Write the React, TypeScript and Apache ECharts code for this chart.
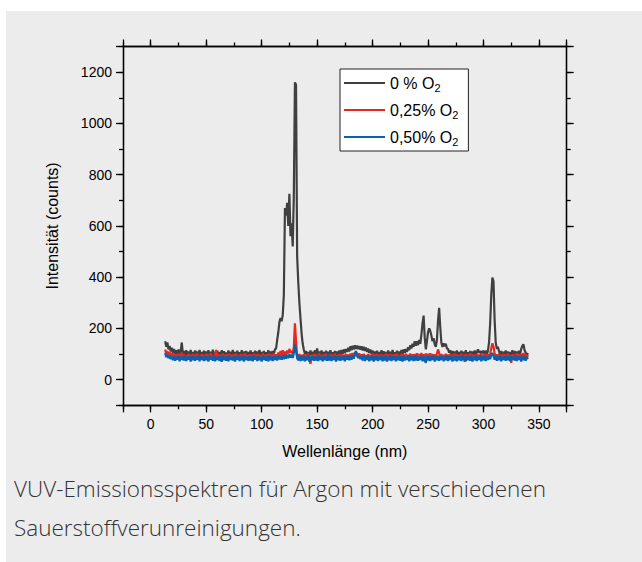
import React, { useEffect, useRef } from "react";
import * as echarts from "echarts";

// Wavelength grid of the spectra: first sample (nm) and spacing (nm)
const WL_START = 13;
const WL_STEP = 1;

const seriesNames = ["0 % O2", "0,25% O2", "0,50% O2"];
const seriesColors = ["#404040", "#e8281e", "#0862b0"];

const xMajorLabels = [0, 50, 100, 150, 200, 250, 300, 350];
const yMajorLabels = [0, 200, 400, 600, 800, 1000, 1200];

// 0 % O2 (counts), 13 nm .. 340 nm
const grey = [
  150, 128, 145, 118, 132, 110, 125,
  104, 120, 98, 115, 96, 118, 94, 112, 145, 100,
  112, 92, 115, 95, 110, 90, 116, 96, 108, 92,
  114, 94, 110, 89, 116, 95, 108, 91, 113, 97,
  110, 90, 115, 94, 109, 92, 117, 95, 106, 90,
  113, 96, 108, 89, 115, 93, 111, 95, 106, 91,
  114, 92, 109, 95, 116, 90, 108, 94, 113, 96,
  107, 91, 115, 94, 110, 89, 112, 96, 108, 92,
  114, 95, 107, 90, 113, 94, 110, 92, 116, 95,
  108, 91, 112, 96, 107, 93, 115, 94, 110, 97,
  112, 100, 118, 122, 155, 185, 225, 240, 228, 252,
  330, 670, 640, 690, 600, 725, 560, 610, 520, 720,
  1160, 1150, 480, 380, 300, 240, 180, 140, 118, 100,
  112, 94, 108, 92, 114, 96, 109, 90, 115, 95,
  122, 98, 110, 92, 114, 95, 108, 91, 113, 96,
  109, 93, 115, 94, 107, 90, 112, 96, 110, 92,
  114, 97, 116, 100, 118, 103, 120, 108, 124, 110,
  130, 115, 132, 118, 134, 120, 133, 119, 131, 117,
  130, 114, 128, 112, 125, 108, 122, 104, 118, 100,
  114, 95, 110, 92, 113, 96, 108, 90, 115, 94,
  111, 93, 108, 91, 114, 95, 109, 92, 116, 96,
  107, 91, 113, 95, 110, 93, 116, 98, 118, 104,
  120, 108, 126, 115, 134, 122, 140, 128, 150, 132,
  150, 135, 155, 140, 175, 220, 250, 165, 118, 150,
  185, 200, 190, 172, 150, 162, 138, 128, 155, 230,
  280, 205, 145, 128, 142, 130, 140, 122, 120, 105,
  115, 98, 112, 94, 110, 92, 114, 96, 108, 91,
  113, 95, 109, 90, 115, 94, 107, 92, 112, 96,
  110, 93, 114, 95, 108, 118, 104, 112, 100, 110,
  112, 96, 114, 100, 112, 145, 220, 330, 398, 385,
  235, 145, 120, 128, 110, 98, 112, 94, 109, 96,
  114, 93, 110, 95, 108, 91, 115, 96, 112, 94,
  110, 97, 113, 100, 120, 132, 138, 115, 106, 94,
  104,
];

// 0,25 % O2 (counts)
const red = [
  118, 100, 112, 96, 108, 92, 104,
  88, 102, 84, 99, 86, 101, 82, 97, 104, 86,
  99, 80, 96, 84, 101, 78, 97, 85, 100, 81,
  98, 83, 102, 79, 96, 86, 100, 80, 97, 84,
  101, 78, 98, 85, 103, 80, 96, 82, 99, 116,
  84, 100, 79, 97, 86, 102, 81, 96, 83, 99,
  80, 101, 85, 97, 78, 99, 84, 102, 81, 96,
  86, 100, 79, 98, 83, 103, 80, 96, 85, 99,
  78, 97, 84, 101, 80, 98, 86, 100, 79, 96,
  85, 102, 81, 97, 78, 99, 84, 101, 80, 98,
  86, 103, 82, 99, 88, 106, 90, 112, 95, 115,
  98, 110, 96, 114, 102, 120, 105, 112, 100, 128,
  220, 150, 92, 84, 100, 80, 97, 85, 99, 81,
  96, 83, 101, 79, 62, 86, 98, 82, 100, 84,
  97, 80, 102, 85, 96, 79, 99, 84, 101, 81,
  98, 85, 100, 80, 97, 83, 102, 79, 96, 86,
  99, 81, 101, 84, 97, 80, 100, 86, 98, 83,
  102, 86, 104, 90, 106, 92, 105, 88, 103, 85,
  99, 82, 101, 84, 96, 80, 100, 85, 97, 81,
  102, 79, 98, 84, 100, 80, 97, 86, 99, 82,
  96, 85, 101, 79, 98, 83, 100, 80, 97, 86,
  99, 81, 102, 84, 96, 80, 100, 85, 98, 82,
  101, 84, 97, 80, 102, 86, 99, 83, 100, 87,
  103, 85, 100, 88, 104, 90, 99, 86, 102, 84,
  101, 87, 103, 85, 100, 89, 98, 84, 102, 118,
  104, 86, 100, 81, 97, 84, 101, 79, 98, 85,
  100, 82, 97, 86, 102, 80, 99, 84, 96, 81,
  101, 85, 98, 70, 100, 83, 97, 86, 102, 80,
  99, 84, 96, 81, 100, 86, 98, 83, 102, 88,
  97, 84, 101, 86, 99, 90, 102, 122, 142, 130,
  104, 88, 99, 83, 101, 80, 97, 86, 100, 82,
  98, 85, 102, 80, 97, 66, 100, 84, 98, 81,
  102, 85, 99, 83, 101, 86, 104, 88, 100, 84,
  96,
];

// 0,50 % O2 (counts)
const blue = [
  104, 88, 98, 84, 94, 80, 90,
  76, 92, 74, 90, 78, 93, 72, 89, 77, 91,
  75, 94, 73, 88, 79, 92, 71, 90, 76, 93,
  74, 89, 78, 94, 72, 91, 77, 88, 73, 92,
  76, 90, 71, 93, 78, 89, 74, 95, 72, 88,
  77, 92, 73, 90, 70, 94, 76, 89, 74, 91,
  72, 93, 77, 88, 75, 92, 71, 90, 78, 94,
  73, 89, 76, 93, 71, 91, 77, 88, 74, 92,
  75, 90, 72, 94, 78, 89, 73, 92, 76, 88,
  71, 93, 77, 90, 74, 91, 72, 94, 76, 89,
  73, 92, 77, 90, 75, 94, 79, 93, 78, 96,
  80, 95, 82, 97, 84, 99, 86, 98, 85, 104,
  138, 112, 84, 76, 92, 73, 90, 75, 93, 72,
  89, 76, 94, 71, 90, 77, 92, 74, 88, 75,
  91, 73, 94, 77, 89, 72, 92, 76, 90, 74,
  100, 75, 92, 73, 89, 77, 94, 71, 90, 76,
  92, 74, 89, 77, 93, 72, 90, 78, 94, 76,
  93, 78, 95, 82, 100, 112, 96, 84, 94, 80,
  91, 75, 93, 73, 90, 77, 92, 72, 89, 76,
  94, 71, 90, 76, 92, 73, 89, 77, 93, 72,
  90, 75, 92, 71, 89, 76, 94, 73, 90, 77,
  92, 72, 89, 76, 93, 74, 90, 71, 92, 75,
  89, 77, 94, 72, 91, 76, 90, 73, 93, 75,
  92, 74, 89, 77, 94, 72, 90, 76, 66, 91,
  75, 92, 73, 90, 77, 94, 71, 89, 76, 93,
  74, 90, 77, 92, 72, 89, 76, 94, 73, 90,
  77, 92, 71, 89, 75, 93, 72, 90, 76, 91,
  73, 94, 77, 89, 72, 92, 76, 90, 74, 93,
  71, 89, 76, 92, 73, 90, 77, 94, 72, 91,
  76, 92, 73, 89, 77, 93, 80, 96, 104, 94,
  78, 92, 74, 90, 76, 93, 72, 89, 77, 91,
  74, 93, 76, 90, 72, 92, 77, 89, 75, 94,
  73, 90, 77, 92, 71, 89, 76, 93, 74, 88,
  80,
];

const captionLines = [
  "VUV-Emissionsspektren für Argon mit verschiedenen",
  "Sauerstoffverunreinigungen.",
];

const FONT = "'Liberation Sans', Arial, sans-serif";

export default function App() {
  const ref = useRef<HTMLDivElement>(null);

  useEffect(() => {
    if (!ref.current) return;
    const chart = echarts.init(ref.current, undefined, { renderer: "svg" });
    const axisLine = { show: true, onZero: false, lineStyle: { color: "#000", width: 1.3 } };
    const tickStyle = { color: "#000", width: 1.3 };
    const toXY = (arr: number[]) => arr.map((v, i) => [WL_START + i * WL_STEP, v]);
    const grid = { left: 117, top: 35.5, right: 75.3, bottom: 156.7 };

    const xBase = { type: "value" as const, min: -25, max: 375, splitLine: { show: false }, axisLine };
    const yBase = { type: "value" as const, min: -100, max: 1300, splitLine: { show: false }, axisLine };

    chart.setOption({
      animation: false,
      backgroundColor: "#ececec",
      grid,
      xAxis: [
        { ...xBase, position: "bottom", interval: 25, axisTick: { length: 4, lineStyle: tickStyle }, axisLabel: { show: false } },
        {
          ...xBase, position: "bottom", splitNumber: 8,
          axisTick: { length: 7, lineStyle: tickStyle },
          axisLabel: {
            margin: 12, fontSize: 14, color: "#000", fontFamily: FONT,
            formatter: (v: number) => (xMajorLabels.includes(v) ? String(v) : ""),
          },
          name: "Wellenlänge (nm)", nameLocation: "middle", nameGap: 38,
          nameTextStyle: { fontSize: 16, color: "#000", fontFamily: FONT },
        },
        { ...xBase, position: "top", interval: 25, axisTick: { length: 4, lineStyle: tickStyle }, axisLabel: { show: false } },
        { ...xBase, position: "top", splitNumber: 8, axisTick: { length: 7, lineStyle: tickStyle }, axisLabel: { show: false } },
      ],
      yAxis: [
        { ...yBase, position: "left", interval: 100, axisTick: { length: 4, lineStyle: tickStyle }, axisLabel: { show: false } },
        {
          ...yBase, position: "left", splitNumber: 7,
          axisTick: { length: 7, lineStyle: tickStyle },
          axisLabel: {
            margin: 11, fontSize: 14, color: "#000", fontFamily: FONT,
            formatter: (v: number) => (yMajorLabels.includes(v) ? String(v) : ""),
          },
          name: "Intensität (counts)", nameLocation: "middle", nameGap: 63,
          nameTextStyle: { fontSize: 16, color: "#000", fontFamily: FONT },
        },
        { ...yBase, position: "right", interval: 100, axisTick: { length: 4, lineStyle: tickStyle }, axisLabel: { show: false } },
        { ...yBase, position: "right", splitNumber: 7, axisTick: { length: 7, lineStyle: tickStyle }, axisLabel: { show: false } },
      ],
      legend: {
        orient: "vertical",
        left: 334,
        top: 58,
        data: seriesNames,
        itemWidth: 41,
        itemHeight: 14,
        itemGap: 7,
        padding: [4, 10, 4, 3],
        backgroundColor: "#ffffff",
        borderColor: "#222",
        borderWidth: 1,
        borderRadius: 0,
        itemStyle: { opacity: 0 },
        formatter: (name: string) => name.replace(/O2$/, "O{s|2}"),
        textStyle: {
          fontSize: 16, color: "#000", fontFamily: FONT, lineHeight: 20,
          rich: { s: { fontSize: 11, lineHeight: 10, verticalAlign: "bottom", fontFamily: FONT, color: "#000" } },
        },
      },
      series: [grey, red, blue].map((arr, i) => ({
        type: "line",
        name: seriesNames[i],
        data: toXY(arr),
        xAxisIndex: 0,
        yAxisIndex: 0,
        symbol: "none",
        showSymbol: false,
        lineStyle: { color: seriesColors[i], width: 2.2 },
        itemStyle: { color: seriesColors[i] },
        z: 2 + i,
      })),
      graphic: captionLines.map((t, i) => ({
        type: "text",
        left: 8,
        top: 466 + i * 39,
        style: { text: t, fontSize: 22.5, fontFamily: "'Open Sans', 'Noto Sans', sans-serif", fontWeight: 300, fill: "#333" },
      })),
    });
    return () => chart.dispose();
  }, []);

  return (
    <div style={{ position: "fixed", left: 0, top: 0, width: 642, height: 562, background: "#fff" }}>
      <div ref={ref} style={{ position: "absolute", left: 6, top: 11, width: 636, height: 551 }} />
    </div>
  );
}
